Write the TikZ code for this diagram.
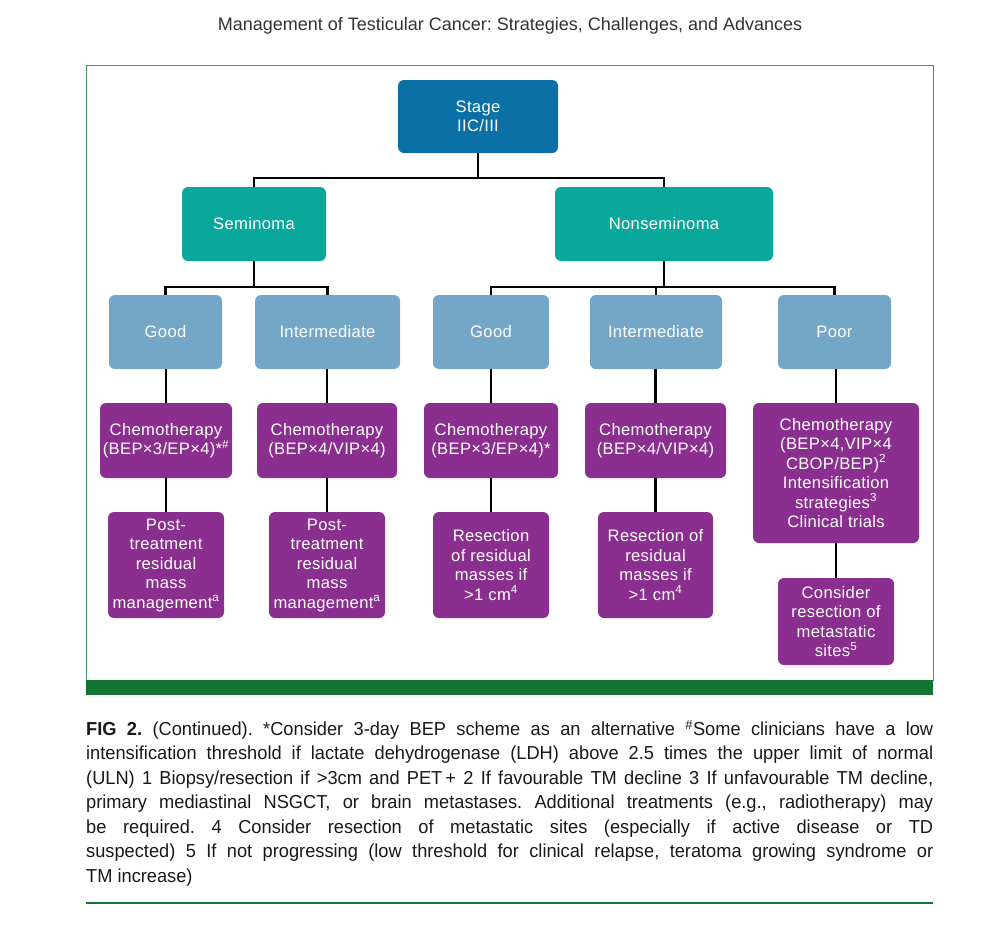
\documentclass[tikz,border=0pt]{standalone}
\usepackage{fontspec}
\setmainfont{Liberation Sans}
\newfontfamily\boxfont[LetterSpace=2]{Liberation Sans}
\newfontfamily\capfont[FakeStretch=0.97]{Liberation Sans}
\usetikzlibrary{positioning}
\definecolor{stageblue}{HTML}{0B70A5}
\definecolor{teal2}{HTML}{0AA89A}
\definecolor{lightblue}{HTML}{74A6C8}
\definecolor{purp}{HTML}{8A2F8F}
\definecolor{framegreen}{HTML}{3C9A5F}
\definecolor{bargreen}{HTML}{137332}
\tikzset{
  basebox/.style={rounded corners=6pt, inner sep=2pt, align=center, text=white,
     font=\boxfont\fontsize{16.6}{19.5}\selectfont},
  stagebox/.style={basebox, fill=stageblue},
  histbox/.style={basebox, fill=teal2},
  riskbox/.style={basebox, fill=lightblue},
  treatbox/.style={basebox, fill=purp},
  conn/.style={draw=black, line width=2.2pt},
}
\begin{document}
\frenchspacing
\begin{tikzpicture}[x=1pt,y=-1pt]
\useasboundingbox (0,0) rectangle (1000,935);
\fill[white] (0,0) rectangle (1000,935);
% title
\node[font=\fontsize{18}{21}\selectfont, text=black!80] (title) at (510,25.5) {Management of Testicular Cancer: Strategies, Challenges, and Advances};
% frame
\draw[framegreen, line width=1pt] (86,65) rectangle (933,680);
\fill[bargreen] (86,680) rectangle (933,695);
% nodes
\node[stagebox, minimum width=160pt, minimum height=73pt] (stage) at (478,116.5) {Stage\\IIC/III};
\node[histbox, minimum width=144pt, minimum height=74pt] (sem) at (254,224) {Seminoma};
\node[histbox, minimum width=218pt, minimum height=74pt] (non) at (664,224) {Nonseminoma};
\node[riskbox, minimum width=113pt, minimum height=74pt] (g1) at (165.5,332) {Good};
\node[riskbox, minimum width=145pt, minimum height=74pt] (i1) at (327.5,332) {Intermediate};
\node[riskbox, minimum width=116pt, minimum height=74pt] (g2) at (491,332) {Good};
\node[riskbox, minimum width=132pt, minimum height=74pt] (i2) at (656,332) {Intermediate};
\node[riskbox, minimum width=113pt, minimum height=74pt] (p) at (834.5,332) {Poor};
\node[treatbox, minimum width=132pt, minimum height=75pt] (c1) at (166,440.5) {Chemotherapy\\(BEP×3/EP×4)*\textsuperscript{\#}};
\node[treatbox, minimum width=140pt, minimum height=75pt] (c2) at (327,440.5) {Chemotherapy\\(BEP×4/VIP×4)};
\node[treatbox, minimum width=134pt, minimum height=75pt] (c3) at (491,440.5) {Chemotherapy\\(BEP×3/EP×4)*};
\node[treatbox, minimum width=141pt, minimum height=75pt] (c4) at (655.5,440.5) {Chemotherapy\\(BEP×4/VIP×4)};
\node[treatbox, minimum width=166pt, minimum height=140pt] (c5) at (836,473) {Chemotherapy\\(BEP×4,VIP×4\\CBOP/BEP)\textsuperscript{2}\\Intensification\\strategies\textsuperscript{3}\\Clinical trials};
\node[treatbox, minimum width=116pt, minimum height=106pt] (b1) at (166,565) {Post-\\treatment\\residual\\mass\\management\textsuperscript{a}};
\node[treatbox, minimum width=116pt, minimum height=106pt] (b2) at (327,565) {Post-\\treatment\\residual\\mass\\management\textsuperscript{a}};
\node[treatbox, minimum width=116pt, minimum height=106pt] (b3) at (491,565) {Resection\\of residual\\masses if\\>1 cm\textsuperscript{4}};
\node[treatbox, minimum width=115pt, minimum height=106pt] (b4) at (655.5,565) {Resection of\\residual\\masses if\\>1 cm\textsuperscript{4}};
\node[treatbox, minimum width=116pt, minimum height=87pt] (b5) at (836,621.5) {Consider\\resection of\\metastatic\\sites\textsuperscript{5}};
% connectors
\draw[conn] (stage.south) -- ++(0,25) -| (sem.north);
\draw[conn] (stage.south) -- ++(0,25) -| (non.north);
\draw[conn] (sem.south) -- ++(0,26) -| (g1.north);
\draw[conn] (sem.south) -- ++(0,26) -| (i1.north);
\draw[conn] (non.south) -- ++(0,26) -| (g2.north);
\draw[conn] (non.south) -- ++(0,26) -| (i2.north);
\draw[conn] (non.south) -- ++(0,26) -| (p.north);
\foreach \a/\b in {g1/c1,i1/c2,g2/c3,i2/c4,p/c5,c1/b1,c2/b2,c3/b3,c4/b4,c5/b5}
  \draw[conn] (\b.north) -- (\b.north |- \a.south);
% caption
\node[anchor=north west, inner sep=0pt, text width=847pt, align=justify,
  font=\capfont\fontsize{18.8}{24.5}\selectfont, text=black!90] (cap) at (86,720)
{\textbf{FIG 2.} (Continued). *Consider 3-day BEP scheme as an alternative \textsuperscript{\#}Some clinicians have a low\linebreak
intensification threshold if lactate dehydrogenase (LDH) above 2.5 times the upper limit of normal\linebreak
(ULN) 1 Biopsy/resection if >3cm and PET\,+ 2 If favourable TM decline 3 If unfavourable TM decline,\linebreak
primary mediastinal NSGCT, or brain metastases. Additional treatments (e.g., radiotherapy) may\linebreak
be required. 4 Consider resection of metastatic sites (especially if active disease or TD\linebreak
suspected) 5 If not progressing (low threshold for clinical relapse, teratoma growing syndrome or\linebreak
TM increase)};
\draw[bargreen, line width=2pt] (86,903) -- (933,903);
\end{tikzpicture}
\end{document}
